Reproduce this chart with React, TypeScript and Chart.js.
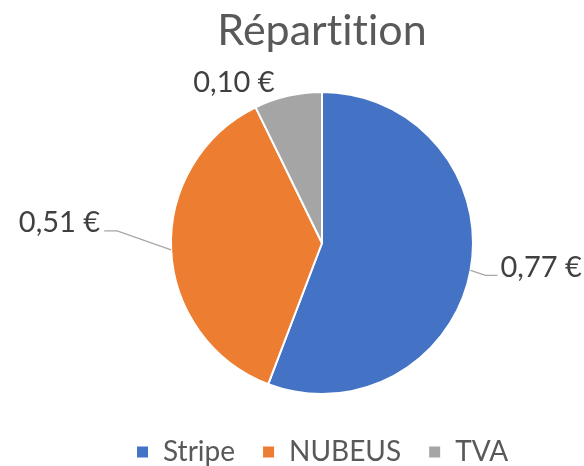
import React, { useEffect, useRef } from "react";
import { Chart, registerables } from "chart.js";

Chart.register(...registerables);

const categories = ["Stripe", "NUBEUS", "TVA"];
const values = [0.77, 0.51, 0.1];
const valueLabels = ["0,77 €", "0,51 €", "0,10 €"];
const colors = ["#4472C4", "#ED7D31", "#A5A5A5"];
const titleText = "Répartition";

// label placement relative to slice's outer midpoint: elbow offset, tail length, text offset
const labelPlacement = [
  { elbow: [15, 5], tail: 12, text: [3, 2], align: "left" as CanvasTextAlign, line: true },
  { elbow: [-54, -19], tail: -13, text: [-4, 1], align: "right" as CanvasTextAlign, line: true },
  { elbow: [-54, -4], tail: 0, text: [0, 0], align: "center" as CanvasTextAlign, line: false },
];

const noLigaturePlugin = {
  id: "noLigatures",
  beforeDraw(chart: any) {
    (chart.ctx as any).letterSpacing = "0.01px";
  },
};

const dataLabelPlugin = {
  id: "dataLabels",
  afterDatasetsDraw(chart: any) {
    const ctx: CanvasRenderingContext2D = chart.ctx;
    const meta = chart.getDatasetMeta(0);
    ctx.save();
    ctx.font = "29px Lato";
    ctx.fillStyle = "#404040";
    ctx.textBaseline = "alphabetic";
    meta.data.forEach((arc: any, i: number) => {
      const p = arc.getProps(["x", "y", "startAngle", "endAngle", "outerRadius"], true);
      const mid = (p.startAngle + p.endAngle) / 2;
      const ex = p.x + p.outerRadius * Math.cos(mid);
      const ey = p.y + p.outerRadius * Math.sin(mid);
      const cfg = labelPlacement[i];
      const bx = ex + cfg.elbow[0];
      const by = ey + cfg.elbow[1];
      const tx = bx + cfg.tail;
      if (cfg.line) {
        ctx.beginPath();
        ctx.strokeStyle = "#A6A6A6";
        ctx.lineWidth = 1.2;
        ctx.moveTo(ex, ey);
        ctx.lineTo(bx, by);
        ctx.lineTo(tx, by);
        ctx.stroke();
      }
      ctx.textAlign = cfg.align;
      ctx.fillText(valueLabels[i], tx + cfg.text[0], by + cfg.text[1]);
    });
    ctx.restore();
  },
};

export default function App() {
  const canvasRef = useRef<HTMLCanvasElement>(null);
  useEffect(() => {
    document.body.style.margin = "0";
    Chart.defaults.font.family = "Lato";
    const chart = new Chart(canvasRef.current!, {
      type: "pie",
      data: {
        labels: categories,
        datasets: [
          {
            data: values,
            backgroundColor: colors,
            borderColor: "#ffffff",
            borderWidth: 2,
            radius: 151,
          } as any,
        ],
      },
      options: {
        animation: false,
        responsive: true,
        maintainAspectRatio: false,
        layout: { padding: { left: 60, right: 0, top: 0, bottom: -10 } },
        plugins: {
          title: {
            display: true,
            text: titleText,
            color: "#595959",
            font: { size: 43, weight: "normal", family: "Lato" },
            padding: { top: 5, bottom: 18.4 },
          },
          legend: {
            position: "bottom",
            labels: {
              color: "#595959",
              font: { size: 28, family: "Lato" },
              boxWidth: 13,
              boxHeight: 13,
              padding: 27,
            },
          },
          tooltip: { enabled: false },
        },
      },
      plugins: [noLigaturePlugin, dataLabelPlugin],
    });
    return () => chart.destroy();
  }, []);
  return (
    <div style={{ position: "absolute", left: 0, top: 0, width: 584, height: 466 }}>
      <canvas ref={canvasRef} />
    </div>
  );
}
